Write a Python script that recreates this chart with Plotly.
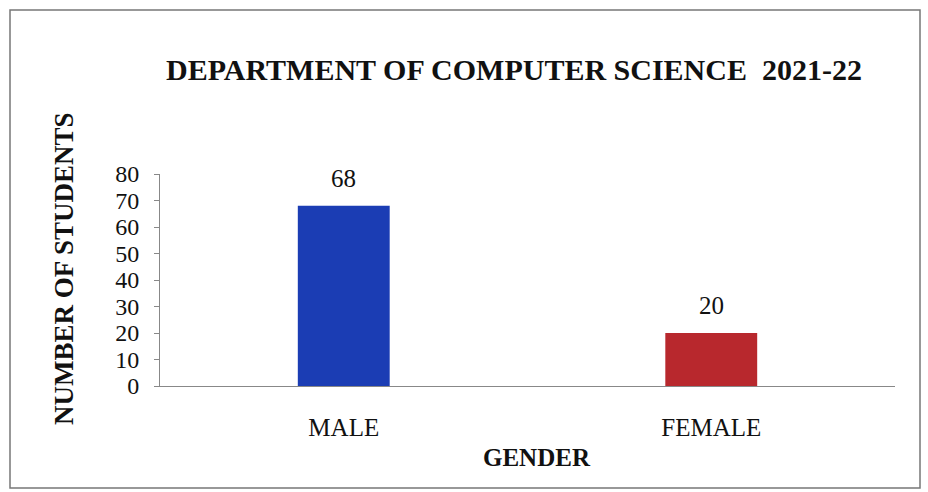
import plotly.graph_objects as go

categories = ["MALE", "FEMALE"]
students = [68, 20]
bar_colors = ["#1b3db4", "#b8282d"]
y_ticks = [0, 10, 20, 30, 40, 50, 60, 70, 80]

W, H = 928, 492
L, R, T, B = 160, 33, 174, 106
pw, ph = W - L - R, H - T - B

def px_x(x):
    return (x - L) / pw

def px_y(y):
    return (H - B - y) / ph

serif = "Liberation Serif, Times New Roman, serif"

fig = go.Figure(go.Bar(
    x=categories, y=students,
    marker=dict(color=bar_colors, line=dict(width=0)),
    width=0.25,
    cliponaxis=False,
))

value_labels = [
    dict(text=str(v), x=c, y=v, xref="x", yref="y", showarrow=False,
         xanchor="center", yanchor="bottom", yshift=12,
         font=dict(family=serif, size=25, color="#111"))
    for c, v in zip(categories, students)
]

fig.update_layout(
    width=W, height=H,
    margin=dict(l=L, r=R, t=T, b=B),
    paper_bgcolor="white", plot_bgcolor="white",
    showlegend=False,
    title=dict(text="<b>DEPARTMENT OF COMPUTER SCIENCE  2021-22</b>",
               x=514 / W, xanchor="center", y=1 - 69 / H, yanchor="middle",
               font=dict(family=serif, size=30, color="#111")),
    font=dict(family=serif, color="#111"),
    xaxis=dict(showline=True, linecolor="#888", linewidth=1, ticks="",
               tickfont=dict(family=serif, size=25, color="#111"),
               ticklabelstandoff=19, showgrid=False),
    yaxis=dict(range=[0, 80], tickvals=y_ticks, showline=True, linecolor="#888",
               linewidth=1, ticks="outside", ticklen=5, tickcolor="#888",
               tickfont=dict(family=serif, size=24, color="#111"),
               ticklabelstandoff=10,
               showgrid=False, zeroline=False),
    annotations=value_labels + [
        dict(text="<b>NUMBER OF STUDENTS</b>", textangle=-90, showarrow=False,
             xref="paper", yref="paper", x=px_x(64), y=px_y(268),
             xanchor="center", yanchor="middle",
             font=dict(family=serif, size=27, color="#111")),
        dict(text="<b>GENDER</b>", showarrow=False,
             xref="paper", yref="paper", x=px_x(537), y=px_y(457),
             xanchor="center", yanchor="middle",
             font=dict(family=serif, size=25, color="#111")),
    ],
    shapes=[
        dict(type="rect", xref="paper", yref="paper",
             x0=px_x(10), x1=px_x(920), y0=px_y(488), y1=px_y(10),
             line=dict(color="#777", width=1.5), fillcolor="rgba(0,0,0,0)",
             layer="below"),
    ],
)

fig.write_html("out.html", config={"displayModeBar": False},
               post_script="document.body.style.margin='0';")
